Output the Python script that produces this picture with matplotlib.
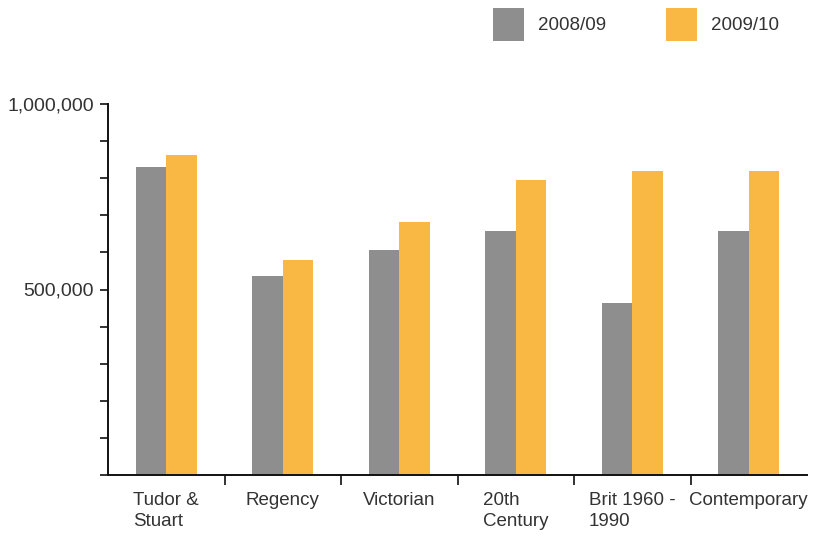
import numpy as np
import matplotlib.pyplot as plt
from matplotlib.patches import Patch
from matplotlib.ticker import MultipleLocator, FixedLocator

plt.rcParams['font.family'] = ['Liberation Sans', 'DejaVu Sans']

# Visitor numbers by collection
periods = ['Tudor &\nStuart', 'Regency', 'Victorian', '20th\nCentury',
           'Brit 1960 -\n1990', 'Contemporary']
visits_0809 = [829000, 536000, 606000, 658000, 464000, 658000]
visits_0910 = [862000, 580000, 682000, 795000, 819000, 819000]
seasons = ['2008/09', '2009/10']

grey = '#8e8e8e'
orange = '#f9b843'
text_col = '#333333'

fig = plt.figure(figsize=(8.38, 5.37), dpi=100)
ax = fig.add_axes([108 / 838, 62 / 537, 699 / 838, 371 / 537])

x = np.arange(len(periods))
w = 0.26
ax.bar(x - w / 2, visits_0809, width=w, color=grey, linewidth=0)
ax.bar(x + w / 2, visits_0910, width=w, color=orange, linewidth=0)

ax.set_xlim(-0.5, len(periods) - 0.5)
ax.set_ylim(0, 1000000)

for side in ['top', 'right']:
    ax.spines[side].set_visible(False)
for side in ['left', 'bottom']:
    ax.spines[side].set_linewidth(1.4)
    ax.spines[side].set_color('#111111')

# y axis: small ticks every 100k, labels only at 500k and 1M
ax.yaxis.set_major_locator(FixedLocator([500000, 1000000]))
ax.yaxis.set_minor_locator(MultipleLocator(100000))
ax.set_yticklabels(['500,000', '1,000,000'])
ax.tick_params(axis='y', which='both', direction='out', length=6, width=1.2,
               color='#111111', labelsize=14, labelcolor=text_col, pad=4)

# x axis: labels at the centres, tick marks between categories
ax.set_xticks(x)
ax.set_xticklabels(periods, multialignment='left', linespacing=1.35)
ax.xaxis.set_minor_locator(FixedLocator(x[:-1] + 0.5))
ax.tick_params(axis='x', which='major', length=0, labelsize=13.5,
               labelcolor=text_col, pad=12)
ax.tick_params(axis='x', which='minor', direction='out', length=7, width=1.2,
               color='#111111')
for lbl in ax.get_xticklabels():
    lbl.set_verticalalignment('top')

handles = [Patch(facecolor=grey, edgecolor='none'),
           Patch(facecolor=orange, edgecolor='none')]
fig.legend(handles, seasons, loc='upper left', bbox_to_anchor=(493 / 838, 1 - 8 / 537),
           ncol=2, frameon=False, fontsize=13.5, labelcolor=text_col,
           handlelength=1.65, handleheight=2.3, handletextpad=0.75,
           columnspacing=3.2, borderpad=0, borderaxespad=0)

fig.savefig('out.png', dpi=100)
